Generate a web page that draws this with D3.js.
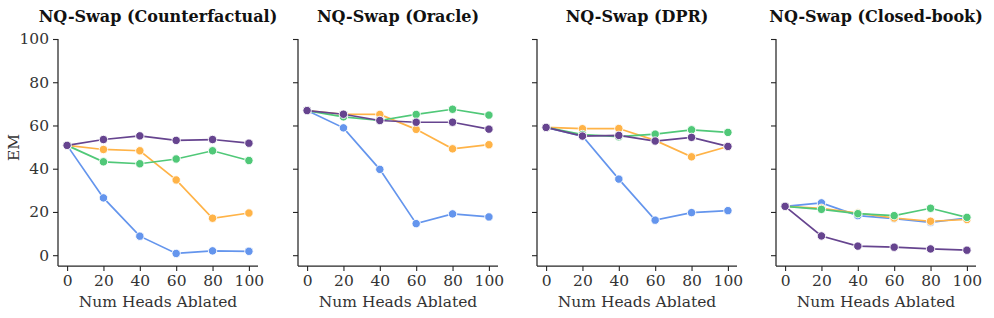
<!DOCTYPE html>
<html>
<head>
<meta charset="utf-8">
<script src="https://cdn.jsdelivr.net/npm/d3@7"></script>
<style>
  body { margin: 0; background: #fff; }
  svg text { font-family: "DejaVu Serif", serif; }
</style>
</head>
<body>
<script>
// Data
const heads = [0, 20, 40, 60, 80, 100];
const panelTitles = ["NQ-Swap (Counterfactual)", "NQ-Swap (Oracle)", "NQ-Swap (DPR)", "NQ-Swap (Closed-book)"];
const seriesColors = ["#6495ed", "#ffb347", "#50c878", "#66448f"];

// one array per series, one per panel: blue, orange, green, purple
const counterfactualBlue = [50.8, 26.5, 8.8, 0.8, 2.0, 1.8];
const counterfactualOrange = [50.8, 48.9, 48.3, 34.8, 17.1, 19.5];
const counterfactualGreen = [50.8, 43.2, 42.3, 44.5, 48.3, 43.8];
const counterfactualPurple = [50.8, 53.5, 55.2, 53.1, 53.5, 51.8];

const oracleBlue = [66.9, 58.9, 39.7, 14.6, 19.1, 17.7];
const oracleOrange = [66.9, 65.2, 65.1, 58.2, 49.2, 51.1];
const oracleGreen = [66.9, 64.0, 62.3, 65.1, 67.5, 64.8];
const oraclePurple = [66.9, 65.2, 62.3, 61.5, 61.5, 58.3];

const dprBlue = [59.1, 55.1, 35.2, 16.2, 19.7, 20.6];
const dprOrange = [59.1, 58.5, 58.6, 53.1, 45.5, 50.3];
const dprGreen = [59.1, 55.8, 54.8, 56.0, 58.0, 56.8];
const dprPurple = [59.1, 55.1, 55.4, 52.8, 54.5, 50.3];

const closedBlue = [22.6, 24.2, 18.3, 16.9, 15.2, 17.2];
const closedOrange = [22.6, 21.7, 19.5, 17.2, 15.7, 16.5];
const closedGreen = [22.6, 21.2, 19.2, 18.3, 21.7, 17.5];
const closedPurple = [22.6, 8.9, 4.2, 3.7, 2.9, 2.3];

const panels = [
    [counterfactualBlue, counterfactualOrange, counterfactualGreen, counterfactualPurple],
    [oracleBlue, oracleOrange, oracleGreen, oraclePurple],
    [dprBlue, dprOrange, dprGreen, dprPurple],
    [closedBlue, closedOrange, closedGreen, closedPurple]
];

const yTicks = [0, 20, 40, 60, 80, 100];

// Layout
const width = 994, height = 318;
const panelLeft = [58, 298, 537, 776];
const plotW = 200, plotTop = 39, plotH = 227;
const serif = "'DejaVu Serif', serif";

const svg = d3.select("body").append("svg")
    .attr("width", width)
    .attr("height", height);

let x = d3.scaleLinear().domain([-5, 105]).range([0, plotW]);
let y = d3.scaleLinear().domain([-5, 100]).range([plotH, 0]);

let line = d3.line()
    .x(function(d, i){ return x(heads[i]); })
    .y(function(d){ return y(d); });

panels.forEach(function(series, p){
    const g = svg.append("g")
        .attr("transform", "translate(" + panelLeft[p] + "," + plotTop + ")");

    // y axis (labels only on the first panel)
    const yAxis = d3.axisLeft(y).tickValues(yTicks).tickSize(5).tickPadding(4);
    if (p > 0) yAxis.tickFormat("");
    const ya = g.append("g").call(yAxis).attr("font-family", serif);

    // x axis
    const xa = g.append("g")
        .attr("transform", "translate(0," + plotH + ")")
        .call(d3.axisBottom(x).tickValues(heads).tickSize(5).tickPadding(4))
        .attr("font-family", serif);

    [ya, xa].forEach(function(a){
        a.select(".domain").attr("stroke", "#262626").attr("stroke-width", 1.25)
            .attr("d", a === ya ? "M0," + plotH + "V0" : "M0,0H" + plotW);
        a.selectAll(".tick line").attr("stroke", "#262626").attr("stroke-width", 1.1);
        a.selectAll(".tick text")
            .attr("fill", "#333")
            .style("font-size", "15.5px")
            .style("font-family", serif);
    });

    // lines then markers, series drawn in order
    series.forEach(function(vals, s){
        g.append("path")
            .datum(vals)
            .attr("fill", "none")
            .attr("stroke", seriesColors[s])
            .attr("stroke-width", 1.7)
            .attr("d", line);
        g.selectAll(".dot" + s)
            .data(vals)
            .enter().append("circle")
            .attr("class", "dot" + s)
            .attr("cx", function(d, i){ return x(heads[i]); })
            .attr("cy", function(d){ return y(d); })
            .attr("r", 4.2)
            .attr("fill", seriesColors[s])
            .attr("stroke", "#fff")
            .attr("stroke-width", 0.9);
    });

    // title
    svg.append("text")
        .attr("x", panelLeft[p] + plotW / 2)
        .attr("y", 22)
        .attr("text-anchor", "middle")
        .style("font-size", "16px")
        .style("font-weight", "bold")
        .style("font-family", serif)
        .attr("fill", "#111")
        .text(panelTitles[p]);

    // x label
    svg.append("text")
        .attr("x", panelLeft[p] + plotW / 2)
        .attr("y", 307)
        .attr("text-anchor", "middle")
        .style("font-size", "15.5px")
        .style("font-family", serif)
        .attr("fill", "#333")
        .text("Num Heads Ablated");
});

// y label
svg.append("text")
    .attr("transform", "translate(19," + (plotTop + plotH / 2 - 5) + ") rotate(-90)")
    .attr("text-anchor", "middle")
    .style("font-size", "15.5px")
    .style("font-family", serif)
    .attr("fill", "#333")
    .text("EM");
</script>
</body>
</html>
